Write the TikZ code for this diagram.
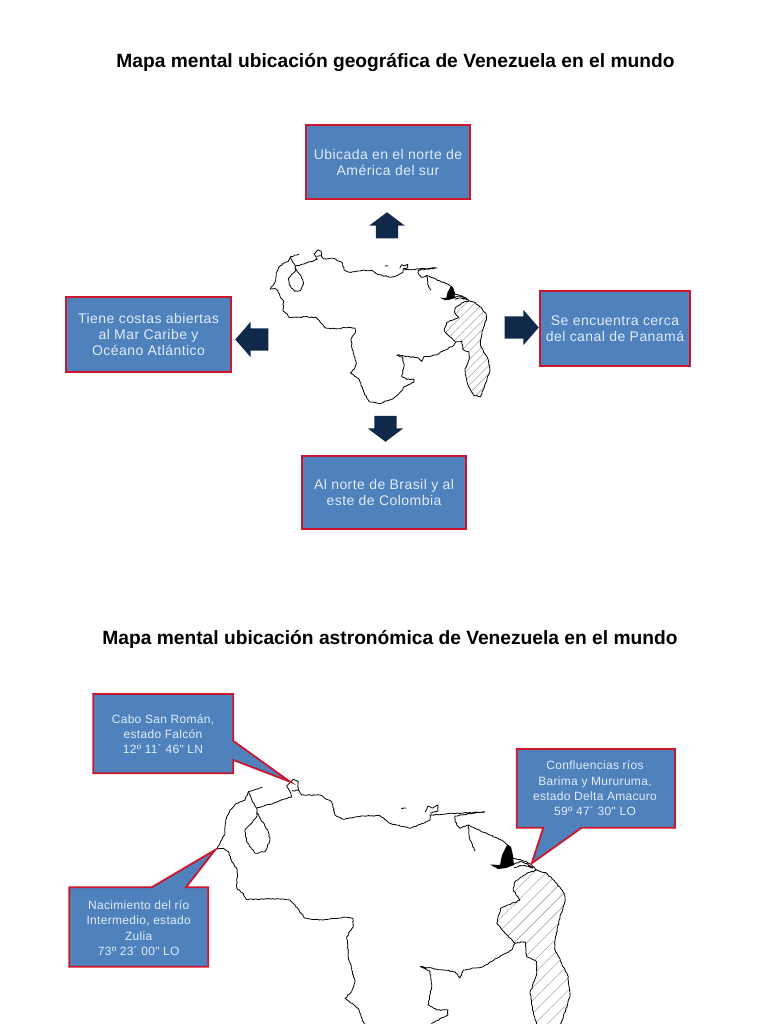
\documentclass[tikz,border=0pt]{standalone}
\usepackage{fontspec}
\setmainfont{Liberation Sans}
\newfontfamily\boxfont[LetterSpace=3.2]{Liberation Sans}
\newfontfamily\calloutfont[LetterSpace=2.5]{Liberation Sans}
\usetikzlibrary{positioning,shapes.arrows,patterns.meta,decorations.pathmorphing}
\definecolor{boxblue}{RGB}{79,129,189}
\definecolor{boxred}{RGB}{205,22,44}
\definecolor{arrownavy}{RGB}{16,41,75}
\definecolor{boxtext}{RGB}{226,236,250}

% map traced once, drawn twice
\newcommand{\mapwest}{(262.3,787) -- (248.3,791.7) -- (245,800) -- (236.7,803.3) -- (230,810) -- (225.7,820) -- (225,833.3) -- (220,843.3) -- (216,849) -- (223.3,848.3) -- (228.3,851.7) -- (231.7,861.7) -- (237.3,870) -- (236.7,888.3) -- (243.3,893.3) -- (246,899.3) -- (260,899.3) -- (276.7,898.7) -- (290,900) -- (295,905) -- (305,918.3) -- (323.3,920) -- (343.3,917.3) -- (352.7,918.3) -- (353.3,926.7) -- (346.7,936.7) -- (348.3,956.7) -- (355,981.7) -- (351.7,991.7) -- (345,998.3) -- (358.3,1008.3) -- (368,1035) -- (376,1050) -- (392,1053) -- (413.5,1045) -- (429.5,1029) -- (432,1023) -- (448,1015) -- (448,1010) -- (436.7,1010) -- (428,1005) -- (431.7,986.7) -- (430,971) -- (420,966.7) -- (455,971.7) -- (460,978) -- (463.3,970) -- (483.3,966.7) -- (496.7,958.3) -- (511.7,950) -- (515,943.3)}
\newcommand{\mapnorth}{(248.3,791.7) -- (251.7,800) -- (256.7,808.3) -- (273.3,803.3) -- (291.7,796.7) -- (290,791.7) -- (286.7,786) -- (293.3,779.3) -- (298.3,781.7) -- (298.3,790) -- (292,791) (298.3,790) -- (301.7,795) -- (320,795) -- (331.7,801.7) -- (335,815) -- (343.3,819.3) -- (363.3,816) -- (380,815.7) -- (390,823.3) -- (410,828.3) -- (423.3,823.3) -- (430,820) -- (430,815) -- (485,811.7) -- (455,816) -- (455,821.7) -- (460,828.3) -- (468.3,825) -- (475,828.3) -- (490,835) -- (501.7,840) -- (510,846.7) -- (513.3,858.3) -- (525,861) -- (531.7,865) -- (536.7,870)}
\newcommand{\maplake}{(256.7,808.3) -- (256.7,816.7) -- (245,830) -- (246.7,841.7) -- (255,853.3) -- (265,851.7) -- (270,840) -- (268.3,831.7) -- (256.7,811.7)}
\newcommand{\mapisles}{(425,812) -- (428,806) -- (433,808) -- (438,805) -- (438,811) -- (430,813) (401,808.3) -- (406,808.3) (468.3,825) -- (470,840) -- (475,851) (513,865) -- (520,861.5) -- (527,863.5) -- (533,868) -- (525,865.5) -- (520,865.5) -- (514,867.5)}
\newcommand{\mapdelta}{(490,864.5) -- (500,865) -- (502,855) -- (507,845) -- (511,847) -- (513,857) -- (514,865) -- (506,868) -- (498,869) -- cycle}
\newcommand{\mapesequibo}{(515,943.3) -- (505,933.3) -- (496.7,923.3) -- (500.7,908.3) -- (508.3,905) -- (520,900) -- (513.3,890) -- (515,881.7) -- (526.7,873.3) -- (536.7,870) -- (546.7,873.3) -- (556.7,883.3) -- (564.3,893.3) -- (565,901.7) -- (560,916.7) -- (555,940) -- (555,950) -- (561.7,963.3) -- (568.3,976.7) -- (570,996.7) -- (563.3,1016.7) -- (555,1041) -- (544,1038) -- (536.7,1024) -- (533.3,1013.3) -- (530,993.3) -- (536.7,973.3) -- (536.7,961.7) -- (526.7,956.7) -- (525,941.7) -- cycle}
\newcommand{\drawmap}[1]{%
  \fill[pattern={Lines[angle=45,distance=#1,line width=.4pt]},pattern color=black!45] \mapesequibo;
  \draw[coast] \mapesequibo;
  \draw[coast] \mapwest;
  \draw[coast] \mapnorth;
  \draw[coast] \maplake;
  \draw[coast] \mapisles;
  \fill \mapdelta;
}

\begin{document}
\begin{tikzpicture}[
  x=1pt, y=-1pt,
  titletext/.style={font=\bfseries\fontsize{19.2}{22}\selectfont, anchor=center, inner sep=0pt},
  bluebox/.style={draw=boxred, fill=boxblue, line width=1.6pt, align=center, text=boxtext, inner sep=0pt, font=\boxfont\fontsize{14}{16}\selectfont},
  calloutbox/.style={draw=boxred, fill=boxblue, line width=1.8pt, line join=miter},
  callouttext/.style={align=center, text=boxtext, inner sep=0pt, font=\calloutfont\fontsize{12}{15.3}\selectfont},
  bigarrow/.style={single arrow, fill=arrownavy, anchor=tip, inner xsep=0pt, inner ysep=11pt, minimum height=33pt, single arrow head extend=6.5pt, single arrow head indent=0pt, single arrow tip angle=98},
  flatarrow/.style={bigarrow, minimum height=26pt, single arrow tip angle=106},
  coast/.style={line width=.8pt, line join=round, decorate, decoration={random steps, segment length=1.8pt, amplitude=.5pt}},
]
  \useasboundingbox (0,0) rectangle (768,1024);

  \node[titletext] (title1) at (395.5,62.5) {Mapa mental ubicación geográfica de Venezuela en el mundo};
  \node[titletext] (title2) at (390,639.5) {Mapa mental ubicación astronómica de Venezuela en el mundo};

  % upper map
  \begin{scope}[shift={(136.3,-188)}, xscale=.62, yscale=.5618]
    \drawmap{6pt}
  \end{scope}

  \node[bluebox, minimum width=164pt, minimum height=74pt] (norte) at (388,162) {Ubicada en el norte de\\América del sur};
  \node[bluebox, minimum width=165pt, minimum height=75pt] (oeste) at (148.5,334.5) {Tiene costas abiertas\\al Mar Caribe y\\Océano Atlántico};
  \node[bluebox, minimum width=150pt, minimum height=75pt] (este) at (615,328.5) {Se encuentra cerca\\del canal de Panamá};
  \node[bluebox, minimum width=164pt, minimum height=73pt] (sur) at (384,492.5) {Al norte de Brasil y al\\este de Colombia};

  \node[flatarrow, rotate=90] (arrownorte) at (387,212) {};
  \node[bigarrow, rotate=180] (arrowoeste) at (235,339.5) {};
  \node[bigarrow, minimum height=34pt] (arroweste) at (539,327.5) {};
  \node[flatarrow, rotate=-90] (arrowsur) at (385.5,442) {};

  % lower map
  \begin{scope}
    \clip (0,0) rectangle (768,1024);
    \drawmap{9pt}
  \end{scope}

  \draw[calloutbox] (93.3,694) -- (233.3,694) -- (233.3,741) -- (290,781.7) -- (233.3,760) -- (233.3,773.3) -- (93.3,773.3) -- cycle;
  \draw[calloutbox] (69.3,887.3) -- (151.7,887.3) -- (215,850) -- (186,887.3) -- (208.3,887.3) -- (208.3,966.7) -- (69.3,966.7) -- cycle;
  \draw[calloutbox] (516.7,749) -- (675,749) -- (675,827.7) -- (581.7,827.7) -- (531.7,863.3) -- (543.3,827.7) -- (516.7,827.7) -- cycle;

  \node[callouttext] (cabo) at (163,734) {Cabo San Román,\\estado Falcón\\12º 11´ 46" LN};
  \node[callouttext] (rio) at (138.7,928) {Nacimiento del río\\Intermedio, estado\\Zulia\\73º 23´ 00" LO};
  \node[callouttext] (barima) at (595,788.5) {Confluencias ríos\\Barima y Mururuma,\\estado Delta Amacuro\\59º 47´ 30" LO};
\end{tikzpicture}
\end{document}
